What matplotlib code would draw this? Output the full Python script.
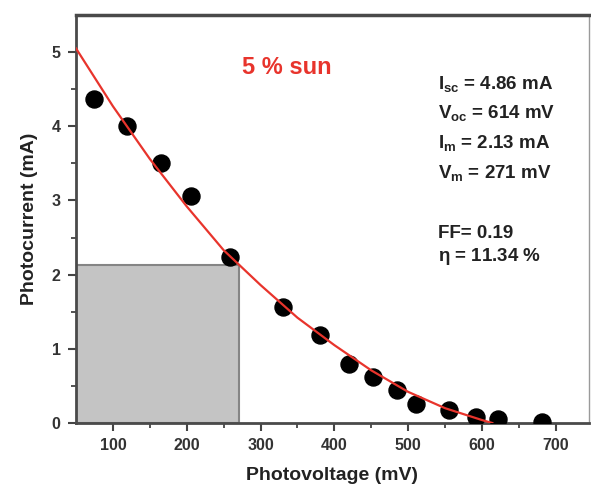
import matplotlib
matplotlib.use("Agg")
import matplotlib.pyplot as plt
from matplotlib.patches import Rectangle

plt.rcParams['font.family'] = ['Liberation Sans', 'DejaVu Sans']
plt.rcParams['font.weight'] = 'bold'
plt.rcParams['mathtext.fontset'] = 'custom'
plt.rcParams['mathtext.rm'] = 'Liberation Sans:bold'
plt.rcParams['mathtext.it'] = 'Liberation Sans:bold'
plt.rcParams['mathtext.bf'] = 'Liberation Sans:bold'

# measured points (mV, mA)
voltage = [74, 119, 165, 206, 258, 330, 380, 420, 452, 485, 511, 555, 592, 622, 681]
current = [4.37, 4.00, 3.50, 3.06, 2.24, 1.57, 1.19, 0.80, 0.62, 0.45, 0.26, 0.17, 0.08, 0.06, 0.02]

# fitted curve
fit_v = [50, 100, 150, 200, 250, 300, 350, 400, 450, 500, 550, 600, 614]
fit_i = [5.05, 4.27, 3.56, 2.92, 2.33, 1.86, 1.42, 1.05, 0.71, 0.42, 0.20, 0.04, 0.0]

Vm = 271
Im = 2.13
title_txt = "5 % sun"
info_lines = ["$I_{sc}$ = 4.86 mA", "$V_{oc}$ = 614 mV", "$I_{m}$ = 2.13 mA", "$V_{m}$ = 271 mV"]
info_lines2 = ["FF= 0.19", "$\\eta$ = 11.34 %"]

xmin, xmax = 50, 745
ymin, ymax = 0, 5.5

fig = plt.figure(figsize=(5.91, 4.9), dpi=100)
ax = fig.add_axes([0.1286, 0.1367, 0.868, 0.8327])

ax.add_patch(Rectangle((xmin, 0), Vm - xmin, Im, facecolor='#c4c4c4',
                       edgecolor='#858585', lw=1.5, zorder=1))
ax.scatter(voltage, current, s=150, color='black', zorder=3)
ax.plot(fit_v, fit_i, color='#e8342c', lw=1.6, zorder=4)

ax.set_xlim(xmin, xmax)
ax.set_ylim(ymin, ymax)
ax.set_xticks([100, 200, 300, 400, 500, 600, 700])
ax.set_xticks([150, 250, 350, 450, 550, 650], minor=True)
ax.set_yticks([0, 1, 2, 3, 4, 5])
ax.set_yticks([0.5, 1.5, 2.5, 3.5, 4.5], minor=True)
ax.tick_params(which='major', direction='out', length=6, width=1.5, color='#444444',
               labelsize=11.5, labelcolor='#333333', pad=5)
ax.tick_params(which='minor', direction='out', length=3.5, width=1.3, color='#444444')

for side in ['left', 'bottom', 'top']:
    ax.spines[side].set_color('#4a4a4a')
    ax.spines[side].set_linewidth(2)
ax.spines['top'].set_linewidth(2.5)
ax.spines['right'].set_color('#9a9a9a')
ax.spines['right'].set_linewidth(1)

ax.set_xlabel("Photovoltage (mV)", fontsize=14, fontweight='bold', color='#222222', labelpad=10)
ax.set_ylabel("Photocurrent (mA)", fontsize=14, fontweight='bold', color='#222222', labelpad=10)

ax.text(275, 4.71, title_txt, color='#e8342c', fontsize=17, fontweight='bold', va='baseline')

base_y = [4.509, 4.105, 3.701, 3.297]
for t, yy in zip(info_lines, base_y):
    ax.text(540, yy, t, fontsize=13.5, fontweight='bold', color='#222222', va='baseline')
for t, yy in zip(info_lines2, [2.50, 2.18]):
    ax.text(540, yy, t, fontsize=13.5, fontweight='bold', color='#222222', va='baseline')

fig.savefig("out.png", dpi=100)
